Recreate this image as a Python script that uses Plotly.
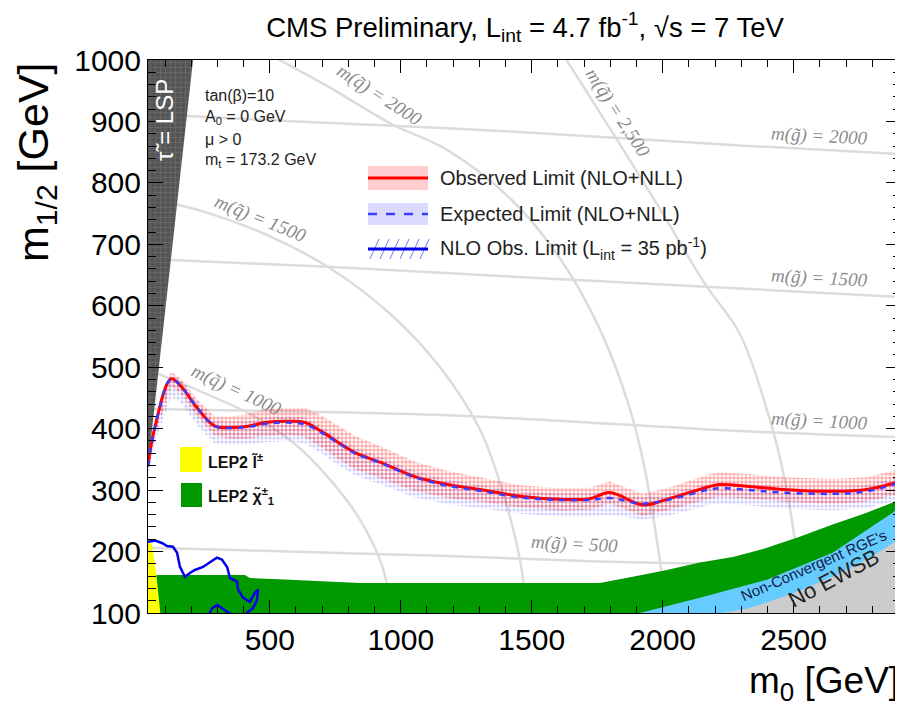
import plotly.graph_objects as go

# ---------------- data (m0, m1/2 in GeV) ----------------
obs_m0 = [35, 60, 123, 161, 226, 291, 352, 417, 482, 569, 634, 696, 760, 825, 924, 1054, 1180,
          1302, 1455, 1608, 1722, 1798, 1924, 2016, 2180, 2218, 2333, 2459, 2650, 2779, 2905]
obs_m12 = [339, 400, 481, 469, 432, 404, 402, 404, 410, 412, 410, 396, 378, 361, 345, 322, 309,
           301, 290, 285, 286, 296, 276, 285, 306, 309, 306, 301, 298, 301, 314]
obs_hi = [349, 412, 493, 481, 446, 420, 420, 424, 432, 434, 434, 422, 405, 388, 371, 346, 331,
          321, 308, 303, 304, 314, 294, 303, 326, 329, 326, 321, 318, 321, 334]
obs_lo = [329, 388, 469, 457, 418, 388, 384, 384, 388, 390, 386, 370, 351, 334, 319, 298, 287,
          281, 272, 267, 268, 278, 258, 267, 286, 289, 286, 281, 278, 281, 294]
exp_m12 = [339, 400, 481, 469, 432, 404, 401, 403, 408, 410, 407, 394, 377, 360, 344, 321, 307,
           299, 288, 284, 284, 287, 278, 284, 301, 303, 300, 296, 294, 298, 312]
exp_hi = [347, 408, 489, 477, 440, 412, 410, 412, 418, 420, 418, 404, 387, 370, 354, 331, 317,
          309, 298, 294, 294, 297, 288, 294, 311, 313, 310, 306, 304, 308, 322]
exp_lo = [318, 376, 452, 442, 404, 376, 373, 374, 378, 380, 376, 360, 341, 324, 309, 288, 277,
          271, 262, 257, 257, 260, 252, 258, 276, 278, 275, 270, 267, 271, 284]

# NLO observed limit with 35 pb^-1
nlo_m0 = [35, 62, 88, 108, 130, 146, 157, 176, 195, 214, 245, 272, 298, 317, 337, 348, 375, 379,
          398, 424, 443, 455, 451, 436, 417, 400, 360, 330, 300, 280, 265]
nlo_m12 = [216, 218, 214, 209, 208, 198, 175, 159, 165, 170, 175, 182, 190, 187, 175, 157, 151, 138,
           125, 118, 133, 138, 121, 108, 102, 92, 96, 104, 113, 108, 95]

# excluded / theory regions
stau_m0 = [35, 207, 35]
stau_m12 = [1000, 1000, 340]
lep_sl_m0 = [35, 35, 50, 65, 82]
lep_sl_m12 = [100, 215, 212, 170, 100]
lep_ch_m0 = [35, 35, 81, 405, 424, 577, 844, 1760, 1886, 2016, 2142, 2268, 2398, 2523, 2649, 2779, 2878, 2910, 2910]
lep_ch_m12 = [100, 162, 162, 162, 157, 154, 149, 149, 159, 170, 182, 191, 206, 224, 244, 263, 280, 285, 100]
rge_m0 = [1913, 2142, 2398, 2649, 2878, 2910, 2910]
rge_m12 = [100, 125, 154, 198, 263, 276, 100]
ewsb_m0 = [2226, 2320, 2398, 2520, 2649, 2760, 2840, 2910, 2910]
ewsb_m12 = [100, 107, 117, 136, 159, 183, 203, 222, 100]

# iso-mass contours
gl_lines = {
    "500":  ([35, 400, 1150, 1750, 2300, 2910], [206, 202, 193, 184, 179, 175]),
    "1000": ([35, 600, 1180, 2295, 2910], [432, 428, 422, 396, 386]),
    "1500": ([35, 700, 1400, 2295, 2910], [676, 664, 648, 628, 614]),
    "2000": ([35, 600, 1180, 1800, 2295, 2910], [912, 900, 889, 874, 861, 847]),
}
sq_lines = {
    "1000": ([35, 233, 424, 596, 730, 844, 928, 966], [496, 461, 424, 375, 317, 252, 178, 100]),
    "1500": ([43, 272, 501, 730, 959, 1150, 1302, 1398, 1455, 1482],
             [775, 750, 713, 661, 587, 500, 399, 285, 187, 100]),
    "2000": ([520, 730, 959, 1180, 1417, 1608, 1760, 1875, 1932, 1989, 2016],
             [1004, 955, 897, 853, 775, 677, 562, 432, 334, 187, 100]),
    "2500": ([1627, 1798, 1989, 2161, 2295, 2409, 2466, 2516, 2543],
             [1004, 889, 758, 636, 554, 415, 317, 187, 100]),
}
gl_labels = [("m(g̃) = 2000", 2600, 877, 3), ("m(g̃) = 1500", 2600, 645, 3),
             ("m(g̃) = 1000", 2600, 413, 3), ("m(g̃) = 500", 1665, 212, 3)]
sq_labels = [("m(q̃) = 1000", 371, 463, 25), ("m(q̃) = 1500", 466, 741, 22),
             ("m(q̃) = 2000", 917, 943, 33), ("m(q̃) = 2,500", 1829, 914, 57)]

x_ticks = [500, 1000, 1500, 2000, 2500]
y_ticks = [100, 200, 300, 400, 500, 600, 700, 800, 900, 1000]

FONT = "Liberation Sans"
OFF = 8  # page body margin
fig = go.Figure()

for k, (xs, ys) in gl_lines.items():
    fig.add_trace(go.Scatter(x=xs, y=ys, mode="lines", line=dict(color="#dcdcdc", width=2.5),
                             line_shape="spline", hoverinfo="skip", showlegend=False))
for k, (xs, ys) in sq_lines.items():
    fig.add_trace(go.Scatter(x=xs, y=ys, mode="lines", line=dict(color="#dcdcdc", width=2.5),
                             line_shape="spline", hoverinfo="skip", showlegend=False))

# stau LSP
fig.add_trace(go.Scatter(x=stau_m0, y=stau_m12, fill="toself", mode="none",
                         fillcolor="#555555",
                         fillpattern=dict(shape="+", fgcolor="#8a8a8a", bgcolor="#555555", size=5, solidity=0.2),
                         showlegend=False, hoverinfo="skip"))

# LEP regions
fig.add_trace(go.Scatter(x=lep_ch_m0, y=lep_ch_m12, fill="toself", mode="none",
                         fillcolor="#009900", showlegend=False, hoverinfo="skip"))
fig.add_trace(go.Scatter(x=rge_m0, y=rge_m12, fill="toself", mode="none",
                         fillcolor="#66ccff", showlegend=False, hoverinfo="skip"))
fig.add_trace(go.Scatter(x=ewsb_m0, y=ewsb_m12, fill="toself", mode="none",
                         fillcolor="#cccccc", showlegend=False, hoverinfo="skip"))
fig.add_trace(go.Scatter(x=lep_sl_m0, y=lep_sl_m12, fill="toself", mode="none",
                         fillcolor="#ffff00", showlegend=False, hoverinfo="skip"))

# NLO 35 pb-1
fig.add_trace(go.Scatter(x=nlo_m0, y=nlo_m12, mode="lines", line=dict(color="#0000ee", width=2.5),
                         showlegend=False, hoverinfo="skip"))

# expected band
fig.add_trace(go.Scatter(x=obs_m0, y=exp_hi, mode="lines", line=dict(width=0), showlegend=False, hoverinfo="skip"))
fig.add_trace(go.Scatter(x=obs_m0, y=exp_lo, mode="lines", line=dict(width=0), fill="tonexty",
                         fillcolor="rgba(0,0,0,0)",
                         fillpattern=dict(shape=".", fgcolor="rgba(80,80,255,0.6)", bgcolor="rgba(255,255,255,0)",
                                          size=4, solidity=0.45),
                         showlegend=False, hoverinfo="skip"))
# observed band
fig.add_trace(go.Scatter(x=obs_m0, y=obs_hi, mode="lines", line=dict(width=0), showlegend=False, hoverinfo="skip"))
fig.add_trace(go.Scatter(x=obs_m0, y=obs_lo, mode="lines", line=dict(width=0), fill="tonexty",
                         fillcolor="rgba(0,0,0,0)",
                         fillpattern=dict(shape=".", fgcolor="rgba(255,40,40,0.8)", bgcolor="rgba(255,255,255,0)",
                                          size=4, solidity=0.6),
                         showlegend=False, hoverinfo="skip"))
# lines
fig.add_trace(go.Scatter(x=obs_m0, y=obs_m12, mode="lines", line=dict(color="#ff0000", width=3, shape="spline"),
                         showlegend=False, hoverinfo="skip"))
fig.add_trace(go.Scatter(x=obs_m0, y=exp_m12, mode="lines",
                         line=dict(color="#3c3cff", width=2.5, dash="6px,6px", shape="spline"),
                         showlegend=False, hoverinfo="skip"))

ann = []
for t, x, y, a in gl_labels + sq_labels:
    ann.append(dict(x=x, y=y, text=t, showarrow=False, textangle=a, xanchor="center", yanchor="middle",
                    font=dict(family="Liberation Serif", size=19, color="#8c8c8c", style="italic")))


def px(xp):
    return (xp - 148) / 753.0


def py(yp):
    return (613 - yp) / 553.0


def text(xp, yp, t, size, color="#222", xanchor="left", angle=0, family=FONT):
    ann.append(dict(xref="paper", yref="paper", x=px(xp), y=py(yp), text=t, showarrow=False,
                    xanchor=xanchor, yanchor="middle", textangle=angle,
                    font=dict(family=family, size=size, color=color)))


for t, yp in [("tan(β)=10", 95), ("A<sub>0</sub> = 0 GeV", 117), ("μ > 0", 139), ("m<sub>t</sub> = 173.2 GeV", 161)]:
    text(203, yp, t, 16)
text(164, 120, "τ̃ = LSP", 24, color="white", xanchor="center", angle=-90)
text(206, 461, "<b>LEP2 l̃<sup>±</sup></b>", 16, color="#111")
text(206, 496, "<b>LEP2 χ̃<sup>±</sup><sub>1</sub></b>", 16, color="#111")
text(813, 565, "Non-Convergent RGE's", 15, color="#14204a", xanchor="center", angle=-23.5)
text(833, 578, "No EWSB", 22, color="#222", xanchor="center", angle=-28)
leg_rows = [("Observed Limit (NLO+NLL)", 178), ("Expected Limit (NLO+NLL)", 214),
            ("NLO Obs. Limit (L<sub>int</sub> = 35 pb<sup>-1</sup>)", 248)]
for t, yp in leg_rows:
    text(438, yp, t, 20)
ann.append(dict(xref="paper", yref="paper", x=px(901), y=py(683), text="m<sub>0</sub> [GeV]", showarrow=False,
                xanchor="right", yanchor="middle", font=dict(family=FONT, size=37, color="black")))
ann.append(dict(xref="paper", yref="paper", x=px(36), y=1.0, text="m<sub>1/2</sub> [GeV]", textangle=-90,
                showarrow=False, xanchor="center", yanchor="top", font=dict(family=FONT, size=43, color="black")))

shapes = []
shapes.append(dict(type="rect", xref="paper", yref="paper", x0=px(180), x1=px(202), y0=py(472), y1=py(447),
                   fillcolor="#ffff00", line=dict(width=0)))
shapes.append(dict(type="rect", xref="paper", yref="paper", x0=px(181), x1=px(202), y0=py(507), y1=py(483),
                   fillcolor="#009900", line=dict(width=0)))
shapes.append(dict(type="rect", xref="paper", yref="paper", x0=px(368), x1=px(428), y0=py(190), y1=py(166),
                   fillcolor="rgba(255,90,90,0.3)", line=dict(width=0)))
shapes.append(dict(type="line", xref="paper", yref="paper", x0=px(368), x1=px(428), y0=py(178), y1=py(178),
                   line=dict(color="#ff0000", width=3)))
shapes.append(dict(type="rect", xref="paper", yref="paper", x0=px(368), x1=px(428), y0=py(225), y1=py(203),
                   fillcolor="rgba(110,110,255,0.25)", line=dict(width=0)))
shapes.append(dict(type="line", xref="paper", yref="paper", x0=px(368), x1=px(428), y0=py(214), y1=py(214),
                   line=dict(color="#3c3cff", width=2.5, dash="dash")))
for i in range(6):
    xs = 370 + i * 10
    shapes.append(dict(type="line", xref="paper", yref="paper", x0=px(xs), x1=px(xs + 9), y0=py(259), y1=py(239),
                       line=dict(color="#7777ff", width=1)))
shapes.append(dict(type="line", xref="paper", yref="paper", x0=px(368), x1=px(428), y0=py(249), y1=py(249),
                   line=dict(color="#0000ee", width=3)))

W, H = 903 - OFF, 706 - OFF
fig.update_layout(
    width=W, height=H,
    margin=dict(l=148 - OFF, r=W - (901 - OFF), t=60 - OFF, b=H - (613 - OFF)),
    paper_bgcolor="white", plot_bgcolor="white",
    showlegend=False,
    font=dict(family=FONT, color="black"),
    title=dict(text="CMS Preliminary, L<sub>int</sub> = 4.7 fb<sup>-1</sup>, √s = 7 TeV",
               x=(525 - OFF) / W, xanchor="center", y=1 - (27 - OFF) / H, yanchor="middle",
               font=dict(family=FONT, size=27.5, color="black")),
    annotations=ann, shapes=shapes,
)
fig.update_xaxes(range=[35, 2910], tickvals=x_ticks, ticks="inside", ticklen=13, tickwidth=1, tickcolor="black",
                 minor=dict(dtick=100, tick0=0, ticks="inside", ticklen=7, tickcolor="black"),
                 showline=True, linecolor="black", linewidth=1, mirror="allticks", showgrid=False, zeroline=False,
                 automargin=False, tickfont=dict(family=FONT, size=30, color="black"))
fig.update_yaxes(range=[100, 1000], tickvals=y_ticks, ticks="inside", ticklen=15, tickwidth=1, tickcolor="black",
                 minor=dict(dtick=20, tick0=0, ticks="inside", ticklen=8, tickcolor="black"),
                 showline=True, linecolor="black", linewidth=1, mirror="allticks", showgrid=False, zeroline=False,
                 automargin=False, tickfont=dict(family=FONT, size=30, color="black"))

fig.write_html("out.html")
